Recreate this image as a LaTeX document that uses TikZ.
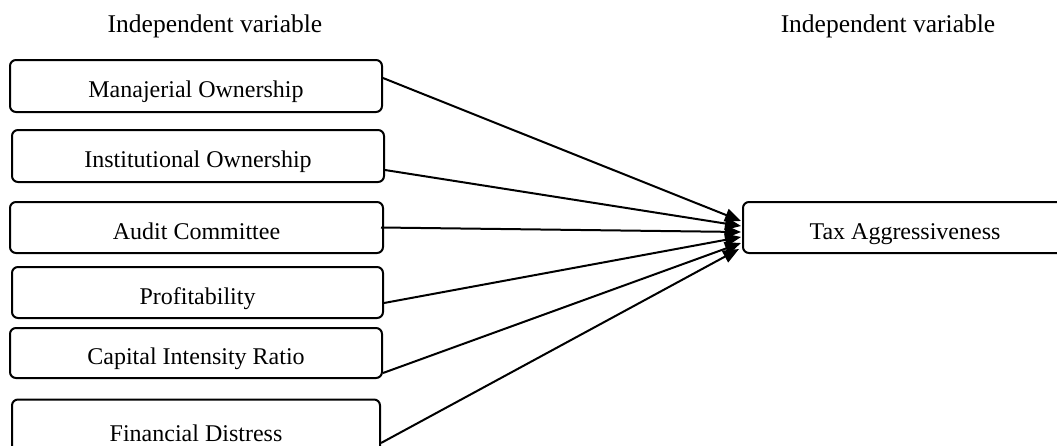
\documentclass[tikz,border=0pt]{standalone}
\usepackage{fontspec}
\setmainfont{Liberation Serif}
\usetikzlibrary{arrows.meta}
\begin{document}
\begin{tikzpicture}[x=1pt,y=-1pt,
  varbox/.style={draw, line width=2pt, rounded corners=6pt, inner sep=0pt,
    minimum width=372pt, minimum height=52pt, text height=23pt, text depth=0pt,
    font=\fontsize{24}{28}\selectfont},
  title/.style={font=\fontsize{25.5}{30}\selectfont, inner sep=0pt, anchor=base},
  conn/.style={line width=2pt, -{Triangle[length=16pt,width=13pt]}}]
\useasboundingbox (0,0) rectangle (1057,445);
\node[title] (t1) at (215,32) {Independent variable};
\node[title] (t2) at (888,32) {Independent variable};
\node[varbox] (b1) at (196,86) {Manajerial Ownership};
\node[varbox] (b2) at (198,156) {Institutional Ownership};
\node[varbox, minimum width=373pt, minimum height=51pt] (b3) at (196.5,227.5) {Audit Committee};
\node[varbox, minimum width=371pt, minimum height=51pt] (b4) at (197.5,292.5) {Profitability};
\node[varbox, minimum height=50pt] (b5) at (196,353) {Capital Intensity Ratio};
\node[varbox, minimum width=368pt, minimum height=60pt] (b6) at (196,429.5) {Financial Distress};
\node[varbox, minimum width=324pt, minimum height=51pt] (tax) at (905,227.5) {Tax Aggressiveness};
\draw[conn] ([yshift=8pt]b1.east) -- ([xshift=-1pt,yshift=6.5pt]tax.west);
\draw[conn] ([yshift=-14pt]b2.east) -- ([xshift=-1pt,yshift=1.5pt]tax.west);
\draw[conn] ([xshift=-3pt,yshift=0pt]b3.east) -- ([xshift=-1pt,yshift=-4.5pt]tax.west);
\draw[conn] ([yshift=-10.5pt]b4.east) -- ([xshift=-1pt,yshift=-9.5pt]tax.west);
\draw[conn] ([yshift=-20pt]b5.east) -- ([xshift=-1pt,yshift=-15.5pt]tax.west);
\draw[conn] ([yshift=-13.5pt]b6.east) -- ([xshift=-3pt,yshift=-21.5pt]tax.west);
\end{tikzpicture}
\end{document}
